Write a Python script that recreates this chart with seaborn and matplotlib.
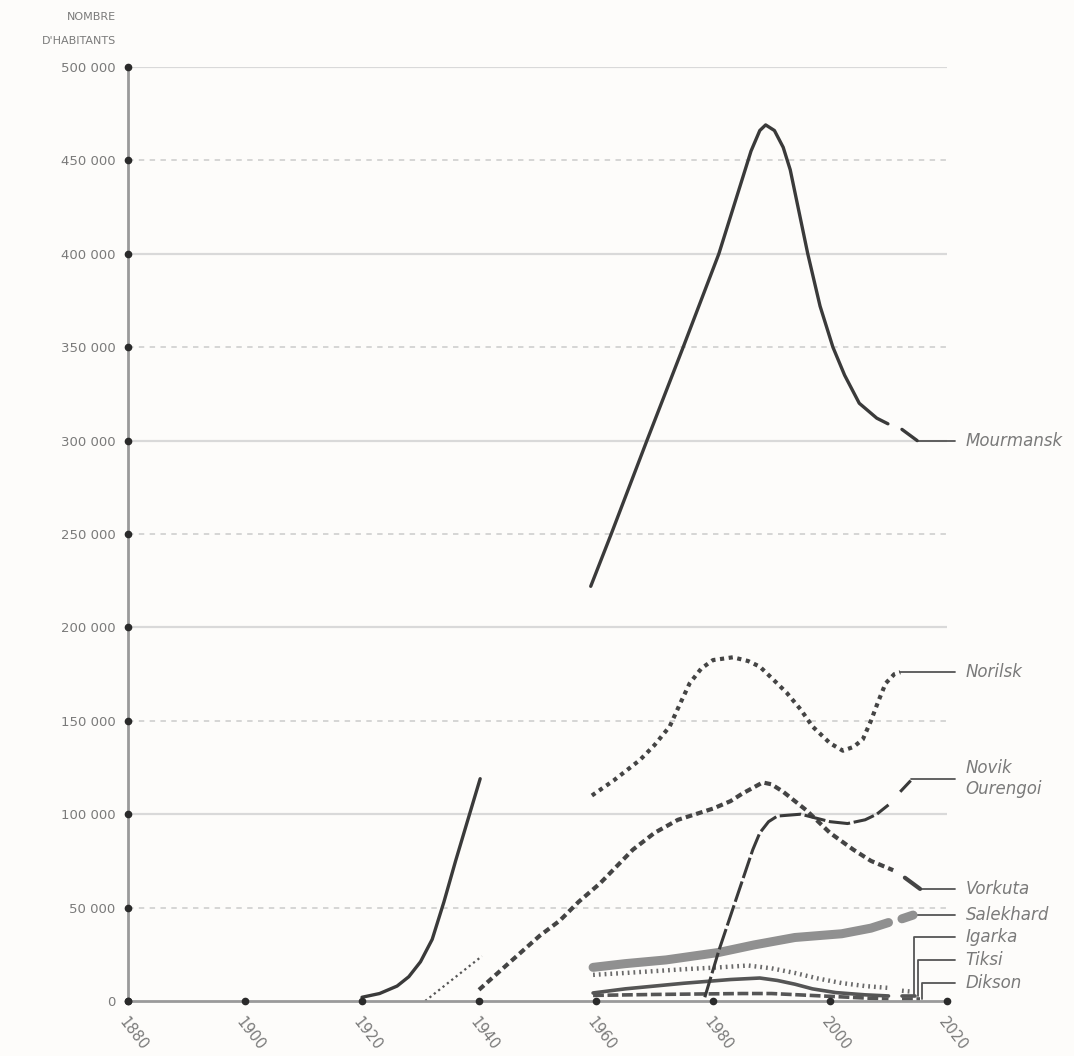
import matplotlib
matplotlib.use("Agg")
import matplotlib.pyplot as plt
import seaborn as sns
import pandas as pd

# ---------------- data ----------------
mourmansk_early_years = [1920, 1923, 1926, 1928, 1930, 1932, 1934, 1936, 1938, 1940.2]
mourmansk_early_pop = [2000, 4000, 8000, 13000, 21000, 33000, 53000, 75000, 96000, 119000]
mourmansk_years = [1959.1, 1962.6, 1968.7, 1974.9, 1981, 1983, 1985, 1986.5, 1988,
                   1989, 1990.5, 1992, 1993.2, 1996.2, 1998.3, 2000.5, 2002.5, 2005, 2008, 2009.9]
mourmansk_pop = [222000, 250000, 300000, 350000, 400000, 420000, 440000, 455000, 466000,
                 469000, 466000, 457000, 445000, 400000, 372000, 350000, 335000, 320000,
                 312000, 309000]
mourmansk_tail_years = [2012.3, 2014.9]
mourmansk_tail_pop = [306000, 300000]

norilsk_early_years = [1930.8, 1940.5]
norilsk_early_pop = [0, 24000]
norilsk_years = [1959.3, 1963, 1967.5, 1970, 1972.6, 1974.5, 1976, 1978, 1980, 1983.4, 1986,
                 1988, 1990, 1992.6, 1995, 1997, 2000, 2002.2, 2004, 2005.6, 2007, 2008.2,
                 2009.5, 2011, 2012]
norilsk_pop = [110000, 118000, 129000, 137000, 147000, 160000, 170000, 178000, 182500, 184000,
               182000, 179000, 173000, 165000, 156000, 147000, 138000, 134000, 136000, 140000,
               150000, 160000, 170000, 175000, 176000]

novik_years = [1978.6, 1981, 1984, 1986.8, 1988, 1989.5, 1991, 1995, 2000, 2003, 2006, 2008, 2010]
novik_pop = [2000, 27000, 55000, 81000, 90000, 96000, 99000, 100000, 96000, 95000, 97000,
             100000, 105000]
novik_tail_years = [2012, 2013.8]
novik_tail_pop = [112000, 118000]

vorkuta_years = [1940, 1945, 1950.4, 1953.8, 1957, 1960.7, 1966.3, 1970, 1974, 1977, 1980, 1983,
                 1985, 1988.5, 1990, 1992, 1996, 2000, 2004, 2007, 2010.8]
vorkuta_pop = [6000, 20000, 35000, 43000, 53000, 63000, 81000, 90000, 97000, 100000, 103000,
               107000, 111000, 117000, 116000, 112000, 102000, 90000, 81000, 75000, 70000]
vorkuta_tail_years = [2012.8, 2015.4]
vorkuta_tail_pop = [66000, 60000]

salekhard_years = [1959.5, 1965, 1972, 1981, 1987, 1994, 2002, 2007, 2010]
salekhard_pop = [18000, 20000, 22000, 26000, 30000, 34000, 36000, 39000, 42000]
salekhard_tail_years = [2012.3, 2014.2]
salekhard_tail_pop = [44000, 46000]

igarka_years = [1959.5, 1965, 1975, 1981, 1986, 1990, 1994, 1998, 2002, 2006, 2010]
igarka_pop = [14000, 15000, 17000, 18000, 19000, 17500, 15000, 12000, 9600, 8000, 7000]
igarka_tail_years = [2012.3, 2014.0]
igarka_tail_pop = [5500, 5000]

tiksi_years = [1959.5, 1965, 1975, 1983, 1988, 1991, 1994, 1997, 2001, 2006, 2010]
tiksi_pop = [4300, 6500, 9500, 11500, 12300, 11000, 9000, 6500, 4500, 3300, 2700]
tiksi_tail_years = [2012.3, 2014.6]
tiksi_tail_pop = [2500, 2500]

dikson_years = [1959.5, 1970, 1985, 1990, 2000, 2010]
dikson_pop = [3000, 3500, 4000, 4000, 2500, 1000]
dikson_tail_years = [2012.3, 2015.3]
dikson_tail_pop = [1000, 1000]

# label positions (population level of the leader line)
labels = ["Mourmansk", "Norilsk", "Novik\nOurengoi", "Vorkuta", "Salekhard", "Igarka", "Tiksi", "Dikson"]
label_levels = [300000, 176000, 119000, 60000, 46000, 34000, 22000, 9600]

x_ticks = [1880, 1900, 1920, 1940, 1960, 1980, 2000, 2020]
y_ticks = list(range(0, 500001, 50000))

# ---------------- style ----------------
sns.set_theme(style="white")
plt.rcParams['font.family'] = ['DejaVu Sans']

BG = "#fdfcfa"
DARK = "#3a3a3a"
TXT = "#7a7a7a"

fig = plt.figure(figsize=(10.74, 10.56), dpi=100, facecolor=BG)
ax = fig.add_axes([128 / 1074, 55 / 1056, 819 / 1074, 934 / 1056])
ax.set_facecolor(BG)
ax.set_xlim(1880, 2020)
ax.set_ylim(0, 500000)

# grid lines
for v in y_ticks[1:]:
    if v % 100000 == 0:
        ax.axhline(v, color="#d9d9d9", lw=1.6, zorder=0)
    else:
        ax.axhline(v, color="#d2d2d2", lw=1.3, linestyle=(0, (3, 3)), zorder=0)

def seg(xs, ys, **kw):
    df = pd.DataFrame({"year": xs, "pop": ys})
    sns.lineplot(data=df, x="year", y="pop", ax=ax, sort=False, estimator=None,
                 legend=False, clip_on=False, **kw)

# series
seg(mourmansk_early_years, mourmansk_early_pop, color=DARK, linewidth=2.4, zorder=5)
seg(mourmansk_years, mourmansk_pop, color=DARK, linewidth=2.4, zorder=5)
seg(mourmansk_tail_years, mourmansk_tail_pop, color=DARK, linewidth=2.4, zorder=5)

seg(norilsk_early_years, norilsk_early_pop, color="#555555", linewidth=1.6,
    linestyle=(0, (1, 1.5)), zorder=4)
seg(norilsk_years, norilsk_pop, color="#444444", linewidth=3.0,
    linestyle=(0, (1.0, 1.1)), zorder=4)

seg(novik_years, novik_pop, color=DARK, linewidth=2.2, linestyle=(0, (7, 1.2)), zorder=5)
seg(novik_tail_years, novik_tail_pop, color=DARK, linewidth=2.2, linestyle=(0, (7, 1.2)), zorder=5)

seg(vorkuta_years, vorkuta_pop, color="#444444", linewidth=3.0, linestyle=(0, (1.6, 1.0)), zorder=4)
seg(vorkuta_tail_years, vorkuta_tail_pop, color="#444444", linewidth=3.0, zorder=4)

seg(salekhard_years, salekhard_pop, color="#909090", linewidth=6.5, zorder=3)
seg(salekhard_tail_years, salekhard_tail_pop, color="#909090", linewidth=6.5, zorder=3)

seg(igarka_years, igarka_pop, color="#6a6a6a", linewidth=3.2, linestyle=(0, (0.4, 0.9)), zorder=3)
seg(igarka_tail_years, igarka_tail_pop, color="#6a6a6a", linewidth=3.2, linestyle=(0, (0.4, 0.9)), zorder=3)

seg(tiksi_years, tiksi_pop, color="#555555", linewidth=2.6, zorder=3)
seg(tiksi_tail_years, tiksi_tail_pop, color="#555555", linewidth=2.6, zorder=3)

seg(dikson_years, dikson_pop, color="#555555", linewidth=2.6, linestyle=(0, (3, 1)), zorder=3)
seg(dikson_tail_years, dikson_tail_pop, color="#555555", linewidth=2.6, linestyle=(0, (3, 1)), zorder=3)

# leader lines
LEAD = dict(color="#555555", lw=1.3, clip_on=False, zorder=2)
x_end = 2021.4
ax.plot([2014.9, x_end], [300000, 300000], **LEAD)
ax.plot([2012, x_end], [176000, 176000], **LEAD)
ax.plot([2013.8, x_end], [119000, 119000], **LEAD)
ax.plot([2015.4, x_end], [60000, 60000], **LEAD)
ax.plot([2014.2, x_end], [46000, 46000], **LEAD)
ax.plot([2014.4, 2014.4, x_end], [3000, 34000, 34000], **LEAD)
ax.plot([2015.0, 2015.0, x_end], [2500, 22000, 22000], **LEAD)
ax.plot([2015.8, 2015.8, x_end], [1000, 9600, 9600], **LEAD)

for lab, lv in zip(labels, label_levels):
    ax.text(2023.2, lv, lab, fontsize=12, style="italic", color=TXT,
            ha="left", va="center", linespacing=1.25, clip_on=False)

# axes lines with dots
ax.plot([1880, 2020], [0, 0], color="#9a9a9a", lw=2, clip_on=False, zorder=6)
ax.plot([1880, 1880], [0, 500000], color="#9a9a9a", lw=2, clip_on=False, zorder=6)
ax.plot(x_ticks, [0] * len(x_ticks), "o", color="#2a2a2a", ms=4.5, clip_on=False, zorder=7)
ax.plot([1880] * len(y_ticks), y_ticks, "o", color="#2a2a2a", ms=4.5, clip_on=False, zorder=7)

for s in ax.spines.values():
    s.set_visible(False)

ax.set_xticks(x_ticks)
ax.set_xticklabels([str(t) for t in x_ticks], rotation=-52, ha="left",
                   rotation_mode="anchor", fontsize=10.5, color=TXT)
ax.set_yticks(y_ticks)
ax.set_yticklabels(["0" if v == 0 else f"{v // 1000} 000" for v in y_ticks],
                   fontsize=9.5, color=TXT)
ax.tick_params(axis="both", length=0)
ax.tick_params(axis="x", pad=10)
ax.tick_params(axis="y", pad=9)
ax.set_xlabel("")
ax.set_ylabel("")

fig.text(116 / 1074, 1 - 17 / 1056, "NOMBRE", ha="right", va="center", fontsize=8, color=TXT)
fig.text(116 / 1074, 1 - 41 / 1056, "D'HABITANTS", ha="right", va="center", fontsize=8, color=TXT)

fig.savefig("out.png", dpi=100, facecolor=BG)
